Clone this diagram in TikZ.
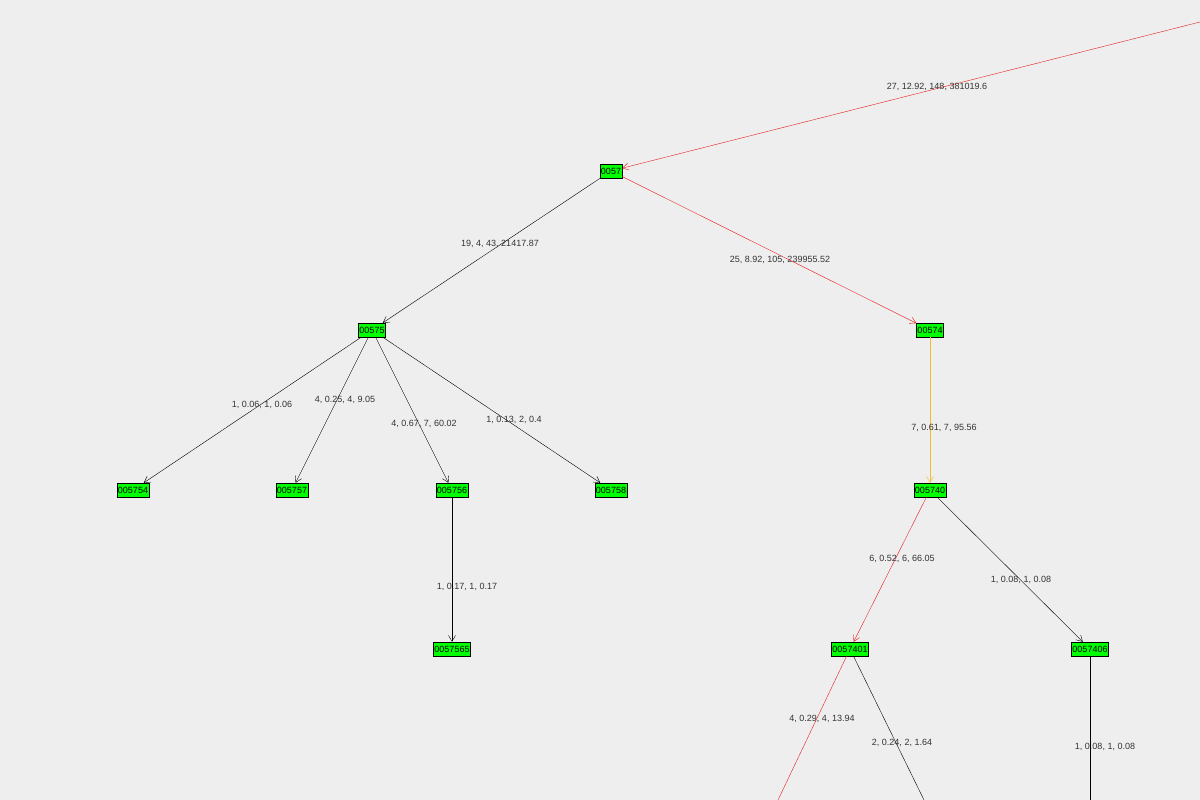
\documentclass[tikz,border=0pt]{standalone}
\usepackage{fontspec}
\setmainfont{Liberation Sans}
\usetikzlibrary{arrows.meta}
\definecolor{bg}{RGB}{238,238,238}
\definecolor{redline}{RGB}{230,30,30}
\definecolor{orangeline}{RGB}{240,190,40}
\begin{document}
\begin{tikzpicture}[x=1pt,y=-1pt,
  box/.style={draw=black, fill=green, inner sep=1pt, minimum height=14pt, font=\fontsize{9}{10}\selectfont},
  lbl/.style={font=\fontsize{9}{10}\selectfont, text=black!80},
  edge/.style={-{Straight Barb[length=6pt,width=7pt]}, thin}]
\fill[bg] (0,0) rectangle (1200,800);
\useasboundingbox (0,0) rectangle (1200,800);
% nodes
\node[box] (n0057) at (611,171) {0057};
\node[box] (n00575) at (372,330) {00575};
\node[box] (n00574) at (930,330) {00574};
\node[box] (n005754) at (133,490) {005754};
\node[box] (n005757) at (292,490) {005757};
\node[box] (n005756) at (452,490) {005756};
\node[box] (n005758) at (611,490) {005758};
\node[box] (n0057565) at (452,649) {0057565};
\node[box] (n005740) at (930,490) {005740};
\node[box] (n0057401) at (850,649) {0057401};
\node[box] (n0057406) at (1090,649) {0057406};
% free ends
\coordinate (top) at (1200,22);
\coordinate (endA) at (778,800);
\coordinate (endB) at (924,800);
\coordinate (endC) at (1090,800);
% edges
\draw[edge, redline] (top) -- (n0057);
\draw[edge] (n0057) -- (n00575);
\draw[edge, redline] (n0057) -- (n00574);
\draw[edge] (n00575) -- (n005754);
\draw[edge] (n00575) -- (n005757);
\draw[edge] (n00575) -- (n005756);
\draw[edge] (n00575) -- (n005758);
\draw[edge] (n005756) -- (n0057565);
\draw[edge, orangeline] (n00574) -- (n005740);
\draw[edge, redline] (n005740) -- (n0057401);
\draw[edge] (n005740) -- (n0057406);
\draw[thin, redline] (n0057401) -- (endA);
\draw[thin] (n0057401) -- (endB);
\draw[thin] (n0057406) -- (endC);
% labels
\node[lbl] at (937,87) {27, 12.92, 148, 381019.6};
\node[lbl] at (500,244) {19, 4, 43, 21417.87};
\node[lbl] at (780,260) {25, 8.92, 105, 239955.52};
\node[lbl] at (262,405) {1, 0.06, 1, 0.06};
\node[lbl] at (345,400) {4, 0.25, 4, 9.05};
\node[lbl] at (424,424) {4, 0.67, 7, 60.02};
\node[lbl] at (514,420) {1, 0.13, 2, 0.4};
\node[lbl] at (467,587) {1, 0.17, 1, 0.17};
\node[lbl] at (944,428) {7, 0.61, 7, 95.56};
\node[lbl] at (902,559) {6, 0.52, 6, 66.05};
\node[lbl] at (1021,580) {1, 0.08, 1, 0.08};
\node[lbl] at (822,719) {4, 0.29, 4, 13.94};
\node[lbl] at (902,743) {2, 0.24, 2, 1.64};
\node[lbl] at (1105,747) {1, 0.08, 1, 0.08};
\end{tikzpicture}
\end{document}
